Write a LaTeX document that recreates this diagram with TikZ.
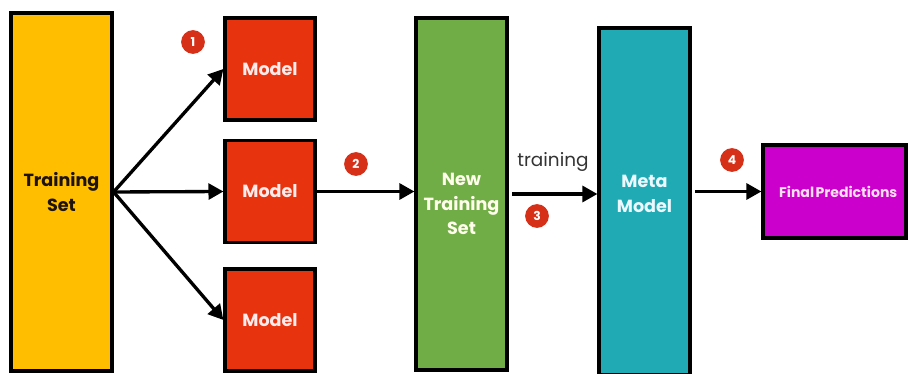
\documentclass[tikz,border=0pt]{standalone}
\usepackage{fontspec}
\setmainfont{Poppins}
\usepackage{tikz}
\usetikzlibrary{arrows.meta}

\definecolor{setyellow}{RGB}{255,190,0}
\definecolor{modelred}{RGB}{232,52,14}
\definecolor{newgreen}{RGB}{112,173,71}
\definecolor{metateal}{RGB}{32,170,180}
\definecolor{finalpink}{RGB}{204,0,204}
\definecolor{numred}{RGB}{214,48,24}

\begin{document}
\begin{tikzpicture}[->,>={Triangle[length=8.5pt,width=9pt]},line width=1.9pt]
\tikzstyle{block}=[draw=black,line width=1.8pt,inner sep=0pt,align=center]
\tikzstyle{num}=[circle,fill=numred,text=white,inner sep=0pt,minimum size=13.5pt]
\tikzset{font=\fontsize{10pt}{14pt}\selectfont\bfseries}

        \useasboundingbox (0,0) rectangle (18.18,7.48);

        \node[block, fill=setyellow, text=black!85!brown, minimum width=2.02cm, minimum height=7.16cm]   (ts)   at (1.23,3.64)  {Training\\Set};

        \node[block, fill=modelred, text=white!92!red, minimum width=1.8cm, minimum height=2.04cm]        (m1)   at (5.4,6.10)   {Model};
        \node[block, fill=modelred, text=white!92!red, minimum width=1.8cm, minimum height=2.04cm]        (m2)   at (5.4,3.65)   {Model};
        \node[block, fill=modelred, text=white!92!red, minimum width=1.8cm, minimum height=2.04cm]        (m3)   at (5.4,1.08)   {Model};

        \node[block, fill=newgreen, minimum width=1.82cm, minimum height=7.04cm,
              label={[align=center, text=yellow!8!white, yshift=-0.2cm]center:New\\Training\\Set}]       (nts)  at (9.23,3.60)  {};
        \node[block, fill=metateal, minimum width=1.82cm, minimum height=6.94cm,
              label={[align=center, text=cyan!8!white, yshift=0.15cm]center:Meta\\Model}]                (meta) at (12.89,3.45) {};
        \node[block, fill=finalpink, text=magenta!12!white, minimum width=2.86cm, minimum height=1.86cm,
              font=\fontsize{8pt}{9pt}\selectfont\bfseries]                                              (fp)   at (16.69,3.65) {\hspace{0.15cm}Final\hspace{0.1em}Predictions};

        \node[num, font=\fontsize{7pt}{8pt}\selectfont\bfseries]   (n1) at (3.86,6.64)  {1};
        \node[num, font=\fontsize{7pt}{8pt}\selectfont\bfseries]   (n2) at (7.12,4.20)  {2};
        \node[num, font=\fontsize{7pt}{8pt}\selectfont\bfseries]   (n3) at (10.74,3.16) {3};
        \node[num, font=\fontsize{7pt}{8pt}\selectfont\bfseries]   (n4) at (14.64,4.28) {4};

        \node[font=\fontsize{10.5pt}{12pt}\selectfont\mdseries, text=black!80] (lbl) at (11.06,4.24) {training};

        % connectors
        \draw (ts.east) -- (m1.west);
        \draw (ts.east) -- (m2.west);
        \draw (ts.east) -- (m3.west);
        \draw (m2.east) -- (m2.east -| nts.west);
        \draw[shorten <=2pt] (nts.east) -- (nts.east -| meta.west);
        \draw[shorten <=2pt] (meta.east |- fp.west) -- (fp.west);

\end{tikzpicture}
\end{document}
